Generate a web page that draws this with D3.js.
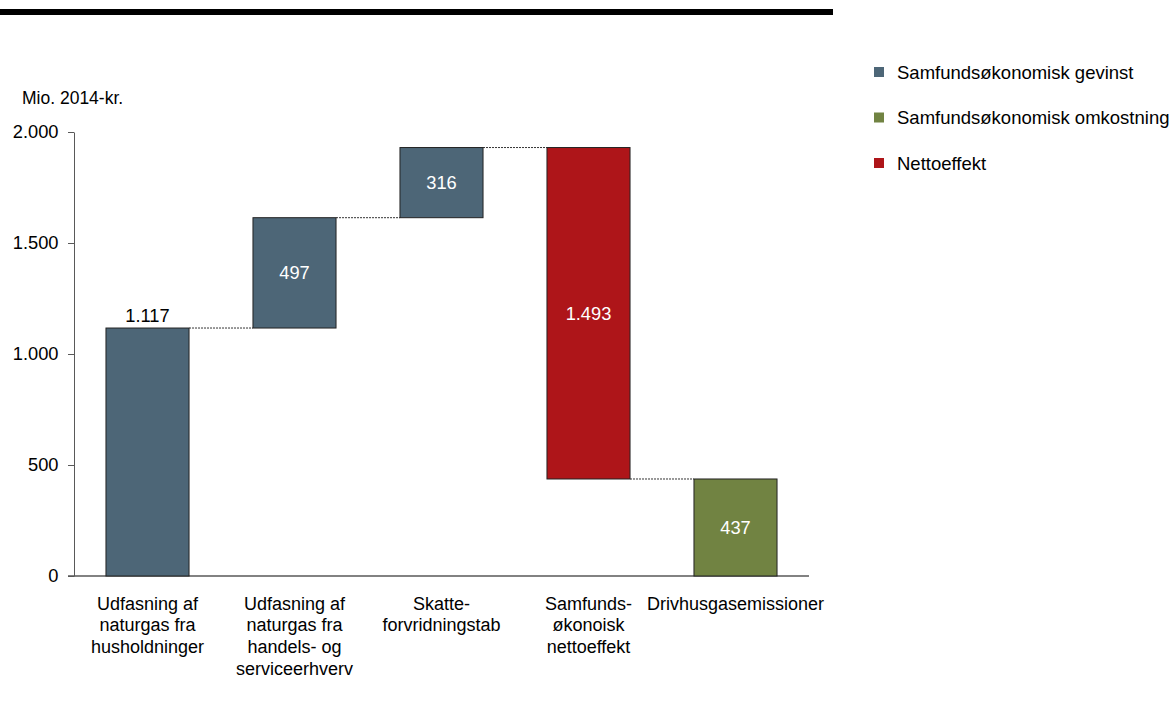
<!DOCTYPE html>
<html><head><meta charset="utf-8">
<script src="https://cdn.jsdelivr.net/npm/d3@7"></script>
<style>body{margin:0;background:#fff}svg{display:block;font-family:Arial,"Liberation Sans",sans-serif}</style>
</head><body><svg id="c" width="1176" height="722"></svg>
<script>
const categories = [
  ["Udfasning af","naturgas fra","husholdninger"],
  ["Udfasning af","naturgas fra","handels- og","serviceerhverv"],
  ["Skatte-","forvridningstab"],
  ["Samfunds-","økonoisk","nettoeffekt"],
  ["Drivhusgasemissioner"]
];
const values = [1117, 497, 316, 1493, 437];
const valueLabels = ["1.117","497","316","1.493","437"];
const kinds = ["gevinst","gevinst","gevinst","netto","omkostning"];
const yTicks = [0, 500, 1000, 1500, 2000];
const yTickLabels = ["0","500","1.000","1.500","2.000"];
const legendLabels = ["Samfundsøkonomisk gevinst","Samfundsøkonomisk omkostning","Nettoeffekt"];
const legendKinds = ["gevinst","omkostning","netto"];
const unitLabel = "Mio. 2014-kr.";

const color = d3.scaleOrdinal().domain(["gevinst","omkostning","netto"]).range(["#4d6677","#718342","#ae1519"]);

// waterfall ranges
const ranges = [];
let cum = 0;
values.forEach((v,i)=>{
  if (kinds[i]==="gevinst") { ranges.push([cum, cum+v]); cum += v; }
  else if (kinds[i]==="netto") { ranges.push([cum - v, cum]); cum = cum - v; }
  else { ranges.push([0, v]); }
});

const svg = d3.select("#c");
svg.append("rect").attr("x",0).attr("y",9).attr("width",833).attr("height",6).attr("fill","#000");

const x = d3.scaleBand().domain(d3.range(values.length)).range([74, 809]).paddingInner(0.435).paddingOuter(0.2175);
const y = d3.scaleLinear().domain([0,2000]).range([576,132]);

// y axis
const yAxis = d3.axisLeft(y).tickValues(yTicks).tickFormat((d,i)=>yTickLabels[i]).tickSize(6).tickSizeOuter(0);
const gy = svg.append("g").attr("transform","translate(74,0)").call(yAxis);
gy.select(".domain").attr("stroke","#595959");
gy.selectAll(".tick line").attr("stroke","#595959");
gy.selectAll(".tick text").attr("font-size",18.3).attr("fill","#000").attr("font-family","Arial, 'Liberation Sans', sans-serif").attr("x",-15.5);

// x axis line
svg.append("line").attr("x1",68).attr("x2",809).attr("y1",y(0)).attr("y2",y(0)).attr("stroke","#595959").attr("stroke-width",1.5);

// connectors
for (let i=0;i<values.length-1;i++){
  let level;
  if (kinds[i]==="netto") level = ranges[i][0];
  else level = ranges[i][1];
  svg.append("line")
    .attr("x1", x(i)+x.bandwidth()).attr("x2", x(i+1))
    .attr("y1", y(level)).attr("y2", y(level))
    .attr("stroke","#333").attr("stroke-width",1).attr("stroke-dasharray","2,1");
}

// bars
svg.selectAll("rect.bar").data(values).enter().append("rect")
  .attr("class","bar")
  .attr("x",(d,i)=>x(i)).attr("width",x.bandwidth())
  .attr("y",(d,i)=>y(ranges[i][1])).attr("height",(d,i)=>y(ranges[i][0])-y(ranges[i][1]))
  .attr("fill",(d,i)=>color(kinds[i]))
  .attr("stroke","#222").attr("stroke-width",1);

// value labels
svg.selectAll("text.val").data(values).enter().append("text")
  .attr("class","val")
  .attr("x",(d,i)=>x(i)+x.bandwidth()/2)
  .attr("y",(d,i)=> i===0 ? y(ranges[i][1]) - 6.5 : (y(ranges[i][0])+y(ranges[i][1]))/2 + 6.5)
  .attr("text-anchor","middle").attr("font-size",18.3)
  .attr("fill",(d,i)=> i===0 ? "#000" : "#fff")
  .text((d,i)=>valueLabels[i]);

// category labels
categories.forEach((lines,i)=>{
  const t = svg.append("text").attr("text-anchor","middle").attr("font-size",18).attr("fill","#000");
  lines.forEach((l,j)=>{
    t.append("tspan").attr("x", x(i)+x.bandwidth()/2).attr("y", 609.5 + j*21.7).text(l);
  });
});

// unit label
svg.append("text").attr("x",22).attr("y",103.5).attr("font-size",17.5).attr("fill","#000").text(unitLabel);

// legend
legendLabels.forEach((l,i)=>{
  const cy = 72 + i*45.5;
  svg.append("rect").attr("x",874).attr("y",cy-5).attr("width",10).attr("height",10).attr("fill",color(legendKinds[i]));
  svg.append("text").attr("x",897).attr("y",cy+6.5).attr("font-size",18.5).attr("fill","#000").text(l);
});
</script></body></html>
